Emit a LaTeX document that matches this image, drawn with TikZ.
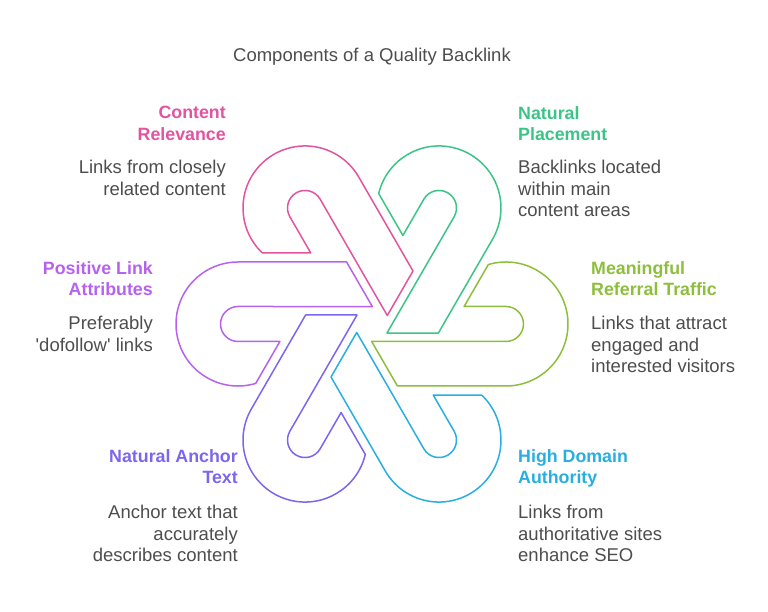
\documentclass[tikz,border=0pt]{standalone}
\usepackage{fontspec}
\setmainfont{Liberation Sans}
\definecolor{relcol}{RGB}{226,84,160}
\definecolor{plccol}{RGB}{60,196,135}
\definecolor{trfcol}{RGB}{141,190,60}
\definecolor{domcol}{RGB}{40,174,224}
\definecolor{anccol}{RGB}{125,102,238}
\definecolor{attcol}{RGB}{182,98,238}
\definecolor{txtgray}{RGB}{77,77,77}

\begin{document}
\begin{tikzpicture}[x=1pt,y=1pt,font=\fontsize{18.5}{21.5}\selectfont,
  hook/.style={line width=1.5pt,line join=round},
  head/.style={font=\fontsize{17.8}{21.5}\selectfont\bfseries,inner sep=0pt},
  desc/.style={text=txtgray,inner sep=0pt}]
  \useasboundingbox (-372,-288) rectangle (396,324);
  \node[text=txtgray,anchor=base] (title) at (0,262) {Components of a Quality Backlink};
  % six hooks, each turned by 60 degrees about the middle
  \foreach \i/\col in {0/relcol,1/plccol,2/trfcol,3/domcol,4/anccol,5/attcol}
    \draw[hook,\col,shift={(120-60*\i:134)},rotate=-60*\i]
      (226.6:62) arc[start angle=226.6,end angle=30,radius=62pt] -- ++(-60:108.6) -- ++(240:51.4)
      -- (30:17.5) arc[start angle=30,end angle=210,radius=17.5pt] -- ++(-60:41.9) -- cycle;
  \node[head,text=relcol,align=right,anchor=north east] (relh) at (-146,218) {Content\\Relevance};
  \node[desc,align=right,anchor=north east] (reld) at (-146,164) {Links from closely\\related content};
  \node[head,text=plccol,align=left,anchor=north west] (plch) at (146,218) {Natural\\Placement};
  \node[desc,align=left,anchor=north west] (plcd) at (146,164) {Backlinks located\\within main\\content areas};
  \node[head,text=attcol,align=right,anchor=north east] (atth) at (-219,63) {Positive Link\\Attributes};
  \node[desc,align=right,anchor=north east] (attd) at (-219,8) {Preferably\\\textquotesingle dofollow\textquotesingle{} links};
  \node[head,text=trfcol,align=left,anchor=north west] (trfh) at (219,63) {Meaningful\\Referral Traffic};
  \node[desc,align=left,anchor=north west] (trfd) at (219,8) {Links that attract\\engaged and\\interested visitors};
  \node[head,text=anccol,align=right,anchor=north east] (anch) at (-134,-125) {Natural Anchor\\Text};
  \node[desc,align=right,anchor=north east] (ancd) at (-134,-181) {Anchor text that\\accurately\\describes content};
  \node[head,text=domcol,align=left,anchor=north west] (domh) at (146,-125) {High Domain\\Authority};
  \node[desc,align=left,anchor=north west] (domd) at (146,-181) {Links from\\authoritative sites\\enhance SEO};
\end{tikzpicture}
\end{document}
